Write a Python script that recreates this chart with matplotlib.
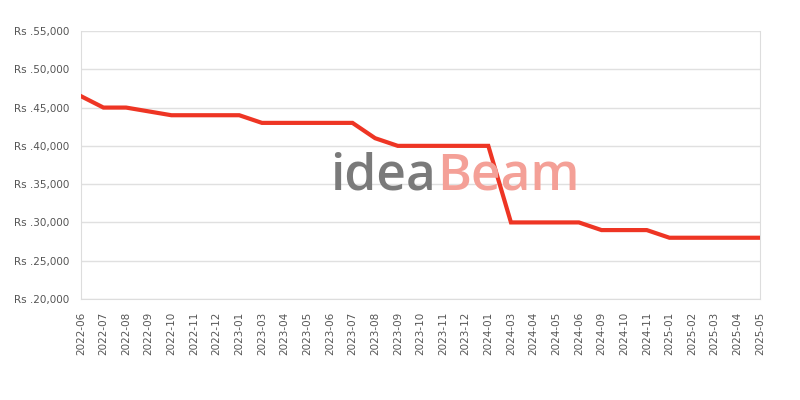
import matplotlib
matplotlib.use('Agg')
import matplotlib.pyplot as plt
from matplotlib.ticker import FuncFormatter

months = ['2022-06', '2022-07', '2022-08', '2022-09', '2022-10', '2022-11', '2022-12',
          '2023-01', '2023-03', '2023-04', '2023-05', '2023-06', '2023-07', '2023-08',
          '2023-09', '2023-10', '2023-11', '2023-12', '2024-01', '2024-03', '2024-04',
          '2024-05', '2024-06', '2024-09', '2024-10', '2024-11', '2025-01', '2025-02',
          '2025-03', '2025-04', '2025-05']
prices = [46500, 45000, 45000, 44500, 44000, 44000, 44000,
          44000, 43000, 43000, 43000, 43000, 43000, 41000,
          40000, 40000, 40000, 40000, 40000, 30000, 30000,
          30000, 30000, 29000, 29000, 29000, 28000, 28000,
          28000, 28000, 28000]

fig = plt.figure(figsize=(8, 4), dpi=100)
ax = fig.add_axes([0.101, 0.2525, 0.849, 0.67])

# watermark
fig.text(0.413, 0.525, 'idea', color='#7a7a7a', fontsize=37, family='Open Sans',
         fontweight='semibold', ha='left', va='baseline', zorder=0)
fig.text(0.547, 0.525, 'Beam', color='#f4a097', fontsize=37, family='Open Sans',
         fontweight='semibold', ha='left', va='baseline', zorder=0)

x = range(len(months))
ax.plot(x, prices, color='#ee3524', linewidth=3, zorder=3, solid_joinstyle='miter')

ax.set_xlim(0, len(months) - 1)
ax.set_ylim(20000, 55000)
ax.set_yticks(range(20000, 55001, 5000))
ax.yaxis.set_major_formatter(FuncFormatter(lambda v, p: f'Rs .{int(v):,}'))
ax.set_xticks(list(x))
ax.set_xticklabels(months, rotation=90)

ax.set_facecolor('none')
ax.grid(axis='y', color='#e0e0e0', linewidth=1)
ax.set_axisbelow(True)
for s in ax.spines.values():
    s.set_color('#dddddd')
ax.spines['top'].set_visible(False)
ax.tick_params(length=0, labelsize=7.5, colors='#555555')
ax.tick_params(axis='x', pad=9)
ax.tick_params(axis='y', pad=8)

plt.savefig('out.png')
